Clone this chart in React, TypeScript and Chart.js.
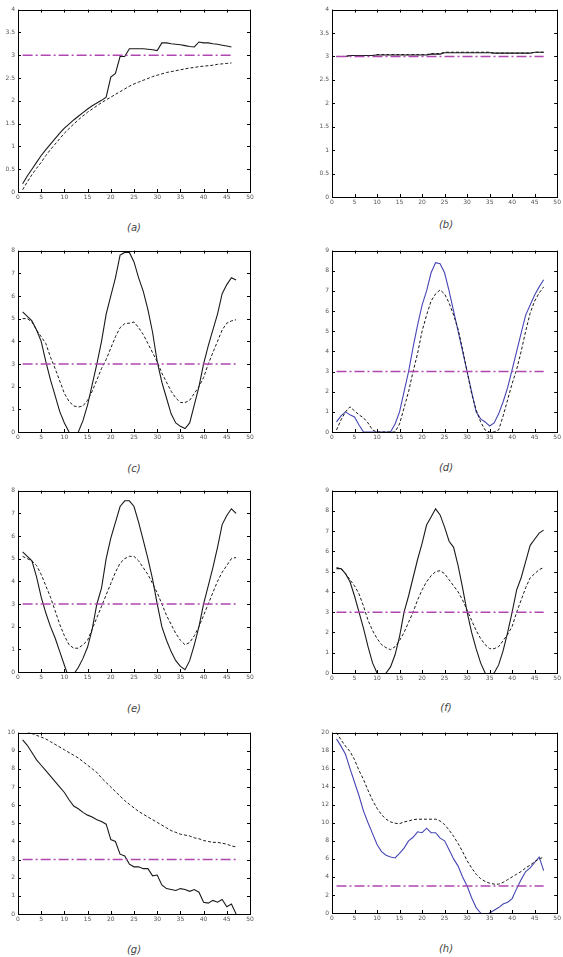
import React, { useEffect, useRef } from 'react';
import { Chart, registerables } from 'chart.js';

Chart.register(...registerables);

// x positions (iteration index)
const XS = [1, 2, 3, 4, 5, 6, 7, 8, 9, 10, 11, 12, 13, 14, 15, 16, 17, 18, 19, 20, 21, 22, 23, 24, 25, 26, 27, 28, 29, 30, 31, 32, 33, 34, 35, 36, 37, 38, 39, 40, 41, 42, 43, 44, 45, 46, 47];
const X_TICKS = [0, 5, 10, 15, 20, 25, 30, 35, 40, 45, 50];
const REF_LEVEL = 3;
const CAPTIONS = ['(a)', '(b)', '(c)', '(d)', '(e)', '(f)', '(g)', '(h)'];

// (a)
const A_SOLID = [0.18, 0.35, 0.5, 0.65, 0.8, 0.93, 1.05, 1.17, 1.29, 1.4, 1.49, 1.58, 1.66, 1.74, 1.82, 1.89, 1.95, 2.01, 2.08, 2.52, 2.6, 2.97, 2.97, 3.14, 3.14, 3.14, 3.14, 3.13, 3.12, 3.1, 3.27, 3.27, 3.25, 3.24, 3.23, 3.21, 3.19, 3.18, 3.29, 3.27, 3.27, 3.25, 3.24, 3.22, 3.2, 3.18];
const A_DASHED = [0.05, 0.22, 0.38, 0.52, 0.65, 0.8, 0.93, 1.05, 1.17, 1.29, 1.39, 1.49, 1.58, 1.67, 1.75, 1.82, 1.89, 1.96, 2.02, 2.08, 2.14, 2.2, 2.26, 2.32, 2.37, 2.41, 2.45, 2.49, 2.53, 2.56, 2.59, 2.62, 2.64, 2.66, 2.68, 2.7, 2.72, 2.73, 2.75, 2.76, 2.77, 2.78, 2.8, 2.81, 2.82, 2.83];
// (b)
const B_SOLID = [3.0, 3.0, 3.0, 3.02, 3.02, 3.02, 3.02, 3.02, 3.02, 3.03, 3.03, 3.03, 3.03, 3.03, 3.03, 3.03, 3.03, 3.03, 3.03, 3.03, 3.03, 3.05, 3.05, 3.05, 3.08, 3.08, 3.08, 3.08, 3.08, 3.08, 3.08, 3.08, 3.08, 3.08, 3.08, 3.07, 3.07, 3.07, 3.07, 3.07, 3.07, 3.07, 3.07, 3.07, 3.09, 3.09, 3.09];
const B_DASHED = [3.0, 3.0, 3.0, 3.02, 3.02, 3.02, 3.02, 3.02, 3.02, 3.04, 3.04, 3.04, 3.04, 3.04, 3.04, 3.04, 3.04, 3.04, 3.04, 3.04, 3.04, 3.06, 3.06, 3.06, 3.09, 3.09, 3.09, 3.09, 3.09, 3.09, 3.09, 3.09, 3.09, 3.09, 3.09, 3.07, 3.07, 3.07, 3.07, 3.07, 3.07, 3.07, 3.07, 3.07, 3.09, 3.09, 3.09];
// (c)
const C_SOLID = [5.3, 5.1, 4.9, 4.5, 4.0, 3.1, 2.3, 1.6, 0.9, 0.4, 0.0, -0.5, 0.0, 0.5, 1.2, 2.1, 3.0, 4.0, 5.2, 6.0, 6.8, 7.8, 7.92, 7.92, 7.5, 6.8, 6.2, 5.4, 4.4, 3.1, 2.2, 1.5, 0.8, 0.4, 0.25, 0.15, 0.4, 1.2, 2.0, 3.0, 3.8, 4.5, 5.2, 6.1, 6.5, 6.8, 6.7];
const C_DASHED = [5.0, 5.0, 4.85, 4.5, 4.2, 3.9, 3.3, 2.8, 2.25, 1.7, 1.35, 1.15, 1.1, 1.15, 1.4, 1.8, 2.3, 2.8, 3.2, 3.7, 4.2, 4.6, 4.78, 4.8, 4.85, 4.6, 4.3, 3.9, 3.5, 3.1, 2.6, 2.2, 1.8, 1.5, 1.3, 1.3, 1.4, 1.7, 2.0, 2.4, 3.0, 3.5, 4.0, 4.5, 4.8, 4.9, 4.95];
// (d)
const D_SOLID = [0.5, 0.8, 1.0, 0.85, 0.75, 0.35, 0.0, 0.0, 0.0, 0.0, 0.0, 0.0, 0.0, 0.4, 1.0, 2.0, 3.0, 4.2, 5.3, 6.3, 7.0, 7.9, 8.4, 8.35, 7.9, 7.0, 6.0, 5.0, 4.0, 3.0, 2.0, 1.0, 0.65, 0.5, 0.3, 0.45, 0.9, 1.5, 2.2, 3.1, 4.0, 4.9, 5.8, 6.3, 6.8, 7.2, 7.55];
const D_DASHED = [0.1, 0.6, 1.0, 1.25, 1.05, 0.85, 0.7, 0.45, 0.1, 0.0, 0.0, 0.0, 0.0, 0.0, 0.4, 1.2, 2.0, 3.0, 3.9, 5.0, 5.8, 6.5, 6.85, 7.05, 6.85, 6.4, 5.8, 5.1, 4.1, 3.0, 1.9, 1.1, 0.5, 0.1, 0.0, 0.0, 0.1, 0.8, 1.6, 2.4, 3.1, 4.0, 5.0, 5.9, 6.5, 6.9, 7.2];
// (e)
const E_SOLID = [5.3, 5.1, 4.9, 4.2, 3.3, 2.6, 2.0, 1.5, 0.9, 0.3, -0.3, -0.1, 0.2, 0.6, 1.1, 1.9, 3.0, 3.7, 5.0, 5.9, 6.6, 7.3, 7.55, 7.55, 7.3, 6.6, 5.8, 5.0, 4.1, 3.0, 2.0, 1.4, 0.9, 0.5, 0.25, 0.1, 0.5, 1.2, 2.0, 3.0, 3.8, 4.6, 5.5, 6.5, 6.9, 7.2, 7.0];
const E_DASHED = [5.1, 5.0, 4.9, 4.7, 4.3, 3.8, 3.3, 2.7, 2.1, 1.6, 1.2, 1.05, 1.05, 1.2, 1.4, 1.9, 2.4, 2.9, 3.4, 3.9, 4.4, 4.8, 5.0, 5.1, 5.1, 4.9, 4.6, 4.3, 3.9, 3.5, 3.0, 2.5, 2.1, 1.7, 1.4, 1.2, 1.3, 1.6, 2.0, 2.5, 3.0, 3.5, 4.0, 4.4, 4.7, 5.0, 5.05];
// (f)
const F_SOLID = [5.15, 5.15, 4.9, 4.5, 3.8, 3.0, 2.2, 1.3, 0.5, 0.0, -0.3, 0.0, 0.3, 0.9, 1.8, 3.0, 3.8, 4.7, 5.6, 6.4, 7.3, 7.7, 8.1, 7.8, 7.2, 6.5, 6.2, 5.3, 4.2, 3.0, 2.0, 1.2, 0.5, 0.0, -0.2, 0.0, 0.4, 1.1, 2.0, 3.0, 4.1, 4.7, 5.5, 6.3, 6.6, 6.9, 7.05];
const F_DASHED = [5.2, 5.15, 4.9, 4.6, 4.3, 3.9, 3.3, 2.6, 2.1, 1.7, 1.4, 1.25, 1.15, 1.3, 1.6, 2.0, 2.5, 3.0, 3.6, 4.1, 4.5, 4.8, 5.0, 5.05, 4.9, 4.6, 4.3, 4.0, 3.6, 3.1, 2.6, 2.1, 1.7, 1.4, 1.2, 1.2, 1.3, 1.6, 1.9, 2.3, 3.0, 3.6, 4.2, 4.7, 4.9, 5.1, 5.2];
// (g)
const G_SOLID = [9.6, 9.3, 8.9, 8.5, 8.2, 7.9, 7.6, 7.3, 7.0, 6.7, 6.3, 5.95, 5.8, 5.6, 5.45, 5.35, 5.2, 5.1, 4.95, 4.1, 4.0, 3.3, 3.2, 2.75, 2.6, 2.6, 2.5, 2.5, 2.1, 2.15, 1.6, 1.4, 1.35, 1.3, 1.4, 1.35, 1.25, 1.35, 1.2, 0.65, 0.6, 0.75, 0.65, 0.8, 0.4, 0.55, 0.0];
const G_DASHED = [10.2, 10.05, 9.95, 9.85, 9.75, 9.65, 9.5, 9.35, 9.2, 9.05, 8.9, 8.75, 8.6, 8.4, 8.2, 8.0, 7.8, 7.5, 7.25, 7.0, 6.75, 6.5, 6.25, 6.05, 5.85, 5.65, 5.5, 5.35, 5.2, 5.05, 4.9, 4.75, 4.6, 4.5, 4.4, 4.35, 4.3, 4.2, 4.15, 4.05, 4.0, 3.95, 3.95, 3.9, 3.85, 3.75, 3.7];
// (h)
const H_SOLID = [19.3, 18.5, 17.6, 16.0, 14.5, 13.0, 11.3, 10.0, 8.8, 7.6, 6.8, 6.4, 6.2, 6.1, 6.6, 7.2, 8.0, 8.4, 9.0, 8.9, 9.4, 8.9, 8.9, 8.3, 8.0, 7.0, 6.0, 5.2, 4.0, 3.0, 1.7, 0.6, 0.0, -0.3, 0.0, 0.3, 0.6, 1.0, 1.2, 1.6, 2.7, 3.7, 4.6, 5.0, 5.6, 6.2, 4.7];
const H_DASHED = [20.0, 19.2, 18.5, 17.9, 17.0, 15.8, 14.8, 13.6, 12.5, 11.6, 10.9, 10.4, 10.1, 9.95, 9.9, 10.1, 10.2, 10.35, 10.4, 10.4, 10.4, 10.4, 10.4, 10.2, 9.8, 9.2, 8.5, 7.7, 6.8, 5.8, 5.0, 4.3, 3.8, 3.5, 3.3, 3.2, 3.2, 3.4, 3.7, 4.0, 4.3, 4.6, 5.0, 5.3, 5.7, 6.0, 6.2];

const BLACK = '#1a1a1a';
const BLUE = '#4646b4';
const MAGENTA = '#b046b0';

type PanelDef = {
  cl: number; cw: number; pl: number; pr: number; pt: number; pb: number; capY: number;
  ymax: number; ystep: number; solid: number[]; dashed: number[]; solidColor: string; refEnd: number; caption: string;
};

const LEFT = { cl: 0, cw: 280, pl: 18, pr: 250 };
const RIGHT = { cl: 280, cw: 283, pl: 332, pr: 560 };

const PANELS: PanelDef[] = [
  { ...LEFT, pt: 9, pb: 192, capY: 228, ymax: 4, ystep: 0.5, solid: A_SOLID, dashed: A_DASHED, solidColor: BLACK, refEnd: 46, caption: CAPTIONS[0] },
  { ...RIGHT, pt: 9, pb: 197, capY: 225, ymax: 4, ystep: 0.5, solid: B_SOLID, dashed: B_DASHED, solidColor: BLACK, refEnd: 47, caption: CAPTIONS[1] },
  { ...LEFT, pt: 250, pb: 432, capY: 469, ymax: 8, ystep: 1, solid: C_SOLID, dashed: C_DASHED, solidColor: BLACK, refEnd: 47, caption: CAPTIONS[2] },
  { ...RIGHT, pt: 250, pb: 432, capY: 468, ymax: 9, ystep: 1, solid: D_SOLID, dashed: D_DASHED, solidColor: BLUE, refEnd: 47, caption: CAPTIONS[3] },
  { ...LEFT, pt: 490, pb: 672, capY: 709, ymax: 8, ystep: 1, solid: E_SOLID, dashed: E_DASHED, solidColor: BLACK, refEnd: 47, caption: CAPTIONS[4] },
  { ...RIGHT, pt: 490, pb: 673, capY: 708, ymax: 9, ystep: 1, solid: F_SOLID, dashed: F_DASHED, solidColor: BLACK, refEnd: 47, caption: CAPTIONS[5] },
  { ...LEFT, pt: 732, pb: 914, capY: 950, ymax: 10, ystep: 1, solid: G_SOLID, dashed: G_DASHED, solidColor: BLACK, refEnd: 47, caption: CAPTIONS[6] },
  { ...RIGHT, pt: 732, pb: 913, capY: 949, ymax: 20, ystep: 2, solid: H_SOLID, dashed: H_DASHED, solidColor: BLUE, refEnd: 47, caption: CAPTIONS[7] },
];

const TOP_PAD = 6;
const X_AXIS_H = 12;

const fmt = (v: any) => String(Math.round(Number(v) * 100) / 100);

const boxTicks = {
  id: 'boxTicks',
  afterDatasetsDraw(chart: any) {
    const { ctx, chartArea: a, scales } = chart;
    ctx.save();
    ctx.strokeStyle = '#000';
    ctx.lineWidth = 1;
    ctx.strokeRect(Math.round(a.left) + 0.5, Math.round(a.top) + 0.5, Math.round(a.right - a.left), Math.round(a.bottom - a.top));
    const L = 3;
    ctx.beginPath();
    scales.x.ticks.forEach((t: any) => {
      const px = Math.round(scales.x.getPixelForValue(t.value)) + 0.5;
      ctx.moveTo(px, a.bottom); ctx.lineTo(px, a.bottom - L);
      ctx.moveTo(px, a.top); ctx.lineTo(px, a.top + L);
    });
    scales.y.ticks.forEach((t: any) => {
      const py = Math.round(scales.y.getPixelForValue(t.value)) + 0.5;
      ctx.moveTo(a.left, py); ctx.lineTo(a.left + L, py);
      ctx.moveTo(a.right, py); ctx.lineTo(a.right - L, py);
    });
    ctx.stroke();
    ctx.restore();
  },
};

function Panel({ p }: { p: PanelDef }) {
  const ref = useRef<HTMLCanvasElement>(null);
  const canvasTop = p.pt - TOP_PAD;
  const canvasH = p.pb - p.pt + TOP_PAD + X_AXIS_H;
  useEffect(() => {
    const pts = (vals: number[]) => vals.map((v, i) => ({ x: XS[i], y: v }));
    const chart = new Chart(ref.current as HTMLCanvasElement, {
      type: 'line',
      data: {
        datasets: [
          {
            data: [{ x: XS[0], y: REF_LEVEL }, { x: p.refEnd, y: REF_LEVEL }],
            borderColor: MAGENTA, borderWidth: 1.5, borderDash: [10, 3, 2, 3], pointRadius: 0,
          },
          {
            data: pts(p.dashed), borderColor: BLACK, borderWidth: 1, borderDash: [3, 2], pointRadius: 0, tension: 0,
          },
          {
            data: pts(p.solid), borderColor: p.solidColor, borderWidth: 1.1, pointRadius: 0, tension: 0,
          },
        ],
      } as any,
      options: {
        animation: false,
        responsive: false,
        devicePixelRatio: 1,
        events: [],
        layout: { autoPadding: false, padding: { top: TOP_PAD, left: 0, bottom: 0, right: p.cl + p.cw - p.pr } },
        plugins: { legend: { display: false }, tooltip: { enabled: false } },
        scales: {
          x: {
            type: 'linear', min: 0, max: 50,
            afterBuildTicks: (s: any) => { s.ticks = X_TICKS.map((v) => ({ value: v })); },
            grid: { display: false, drawTicks: false },
            border: { display: false },
            ticks: { font: { size: 6, family: 'DejaVu Sans' }, color: '#555', padding: 2, maxRotation: 0, autoSkip: false, callback: fmt },
            afterFit: (s: any) => { s.height = X_AXIS_H; },
          },
          y: {
            type: 'linear', min: 0, max: p.ymax,
            grid: { display: false, drawTicks: false },
            border: { display: false },
            ticks: { stepSize: p.ystep, font: { size: 6, family: 'DejaVu Sans' }, color: '#555', padding: 3, autoSkip: false, callback: fmt },
            afterFit: (s: any) => { s.width = p.pl - p.cl; },
          },
        },
      } as any,
      plugins: [boxTicks],
    });
    return () => chart.destroy();
  }, []);
  return (
    <>
      <canvas
        ref={ref}
        width={p.cw}
        height={canvasH}
        style={{ position: 'absolute', left: p.cl, top: canvasTop, width: p.cw, height: canvasH }}
      />
      <div
        style={{
          position: 'absolute', left: (p.pl + p.pr) / 2 - 20, width: 40, top: p.capY - 7, height: 14,
          textAlign: 'center', fontFamily: 'DejaVu Sans', fontStyle: 'italic', fontSize: 10, color: '#444', lineHeight: '14px',
        }}
      >
        {p.caption}
      </div>
    </>
  );
}

export default function App() {
  useEffect(() => {
    document.body.style.margin = '0';
    document.body.style.background = '#fff';
  }, []);
  return (
    <div style={{ position: 'absolute', left: 0, top: 0, width: 563, height: 957, overflow: 'hidden', background: '#fff' }}>
      {PANELS.map((p, i) => (
        <Panel key={i} p={p} />
      ))}
    </div>
  );
}
